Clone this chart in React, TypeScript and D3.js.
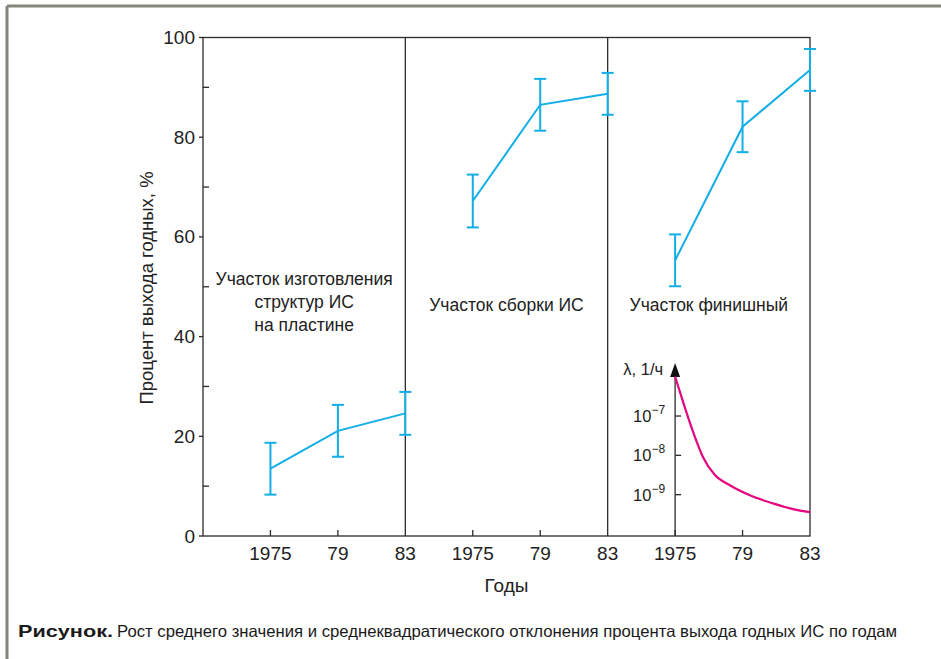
import React from "react";
import * as d3 from "d3";

// ---------- data ----------
const panelNames = ["fab", "assembly", "final"];
const panelLabelLines = [
  ["Участок изготовления", "структур ИС", "на пластине"],
  ["Участок сборки ИС"],
  ["Участок финишный"],
];
const years = [1975, 1979, 1983];
const yearLabels = ["1975", "79", "83"];
const fabMean = [13.5, 21.1, 24.6];
const fabSd = [5.2, 5.2, 4.3];
const asmMean = [67.2, 86.5, 88.7];
const asmSd = [5.3, 5.2, 4.2];
const finMean = [55.3, 82.1, 93.5];
const finSd = [5.2, 5.1, 4.2];
const yMajorTicks = [0, 20, 40, 60, 80, 100];
const yMinorTicks = [10, 30, 50, 70, 90];
const lambdaYears = [1975, 1975.5, 1976.1, 1976.65, 1977.35, 1978.25, 1979.4, 1980.8, 1982, 1983];
const lambdaValues = [1e-6, 2.1e-7, 3.6e-8, 9.1e-9, 3.2e-9, 1.74e-9, 9.8e-10, 6.0e-10, 4.3e-10, 3.6e-10];
const lambdaTicks = [1e-7, 1e-8, 1e-9];
const lambdaTickExp = ["−7", "−8", "−9"];
const axisTitleY = "Процент выхода годных, %";
const axisTitleX = "Годы";
const lambdaTitle = "λ, 1/ч";
const captionBold = "Рисунок.";
const captionText = "Рост среднего значения и среднеквадратического отклонения процента выхода годных ИС по годам";

const W = 941;
const H = 659;
const left = 203;
const right = 810;
const top = 37.5;
const bottom = 536;
const BLUE = "#12aee8";
const MAGENTA = "#e4057f";
const INK = "#2b2b2b";
const FONT = "'Liberation Sans', Arial, sans-serif";

export default function App() {
  const y = d3.scaleLinear().domain([0, 100]).range([bottom, top]);
  const band = d3.scaleBand<string>().domain(panelNames).range([left, right]).padding(0);
  const bw = band.bandwidth();
  const xIn = d3.scaleLinear().domain([1971, 1983]).range([0, bw]);
  const series = [
    { mean: fabMean, sd: fabSd },
    { mean: asmMean, sd: asmSd },
    { mean: finMean, sd: finSd },
  ];
  const lineGen = d3
    .line<[number, number]>()
    .x((d) => d[0])
    .y((d) => d[1]);

  const finalX0 = band("final")!;
  const yL = d3.scaleLog().domain([1e-10, 1e-6]).range([534, 376.7]);
  const insetX = (yr: number) => finalX0 + xIn(yr);
  const curveGen = d3
    .line<number>()
    .x((_, i) => insetX(lambdaYears[i]))
    .y((d) => yL(d))
    .curve(d3.curveMonotoneX);
  const ax = insetX(1975);

  return (
    <svg
      width={W}
      height={H}
      style={{ position: "absolute", left: 0, top: 0, background: "#fff" }}
      fontFamily={FONT}
    >
      {/* outer frame (top and left) */}
      <line x1={7} y1={6} x2={W} y2={6} stroke="#85857a" strokeWidth={3} />
      <line x1={7} y1={6} x2={7} y2={H} stroke="#85857a" strokeWidth={3} />

      {/* plot box */}
      <rect x={left} y={top} width={right - left} height={bottom - top} fill="none" stroke={INK} strokeWidth={1.3} />

      {/* panel dividers */}
      {panelNames.slice(1).map((p) => (
        <line key={p} x1={band(p)} x2={band(p)} y1={top} y2={bottom} stroke={INK} strokeWidth={1.3} />
      ))}

      {/* y ticks */}
      {yMajorTicks.map((t) => (
        <g key={t}>
          <line x1={left - 4} x2={left} y1={y(t)} y2={y(t)} stroke={INK} strokeWidth={1.3} />
          <text x={left - 8} y={y(t)} textAnchor="end" dominantBaseline="central" fontSize={19} fill="#222">
            {t}
          </text>
        </g>
      ))}
      {yMinorTicks.map((t) => (
        <line key={t} x1={left} x2={left + 6} y1={y(t)} y2={y(t)} stroke={INK} strokeWidth={1.3} />
      ))}

      {/* x ticks & labels */}
      {panelNames.map((p) =>
        years.map((yr, i) => (
          <g key={p + yr}>
            {i < years.length - 1 && (
              <line
                x1={band(p)! + xIn(yr)}
                x2={band(p)! + xIn(yr)}
                y1={bottom}
                y2={bottom - 6}
                stroke={INK}
                strokeWidth={1.3}
              />
            )}
            <text x={band(p)! + xIn(yr)} y={560} textAnchor="middle" fontSize={19} fill="#222">
              {yearLabels[i]}
            </text>
          </g>
        ))
      )}

      {/* axis titles */}
      <text x={(left + right) / 2} y={592} textAnchor="middle" fontSize={19} fill="#222">
        {axisTitleX}
      </text>
      <text transform={`translate(153, 288) rotate(-90)`} textAnchor="middle" fontSize={18.5} fill="#222">
        {axisTitleY}
      </text>

      {/* panel labels */}
      {panelLabelLines.map((lines, pi) => {
        const cx = band(panelNames[pi])! + bw / 2;
        const y0 = lines.length > 1 ? 285 : 311;
        return lines.map((ln, li) => (
          <text key={pi + "-" + li} x={cx} y={y0 + li * 23} textAnchor="middle" fontSize={17.5} fill="#222">
            {ln}
          </text>
        ));
      })}

      {/* data series */}
      {series.map((s, pi) => {
        const x0 = band(panelNames[pi])!;
        const pts: [number, number][] = years.map((yr, i) => [x0 + xIn(yr), y(s.mean[i])]);
        return (
          <g key={pi}>
            <path d={lineGen(pts)!} fill="none" stroke={BLUE} strokeWidth={2} />
            {years.map((yr, i) => {
              const cx = x0 + xIn(yr);
              const yt = y(s.mean[i] + s.sd[i]);
              const yb = y(s.mean[i] - s.sd[i]);
              return (
                <g key={yr} stroke={BLUE} strokeWidth={2}>
                  <line x1={cx} x2={cx} y1={yt} y2={yb} />
                  <line x1={cx - 6} x2={cx + 6} y1={yt} y2={yt} />
                  <line x1={cx - 6} x2={cx + 6} y1={yb} y2={yb} />
                </g>
              );
            })}
          </g>
        );
      })}

      {/* inset: failure rate */}
      <line x1={ax} x2={ax} y1={bottom} y2={372} stroke={INK} strokeWidth={1.3} />
      <path d={`M${ax},${363} L${ax - 5},${377} L${ax + 5},${377} Z`} fill="#111" />
      {lambdaTicks.map((t, i) => (
        <g key={t}>
          <line x1={ax} x2={ax + 6} y1={yL(t)} y2={yL(t)} stroke={INK} strokeWidth={1.3} />
          <text x={ax - 10} y={yL(t) + 6} textAnchor="end" fontSize={16.5} fill="#222">
            <tspan>10</tspan>
            <tspan fontSize={12} dy={-8}>{lambdaTickExp[i]}</tspan>
          </text>
        </g>
      ))}
      <text x={ax - 12} y={375} textAnchor="end" fontSize={16.5} fill="#222">
        {lambdaTitle}
      </text>
      <path d={curveGen(lambdaValues)!} fill="none" stroke={MAGENTA} strokeWidth={2.2} />

      {/* caption */}
      <text x={18} y={637} fontSize={16.5} fontWeight="bold" fill="#1a1a1a" textLength={95} lengthAdjust="spacingAndGlyphs">
        {captionBold}
      </text>
      <text x={117} y={637} fontSize={16.5} fill="#1a1a1a" textLength={780} lengthAdjust="spacingAndGlyphs">
        {captionText}
      </text>
    </svg>
  );
}
